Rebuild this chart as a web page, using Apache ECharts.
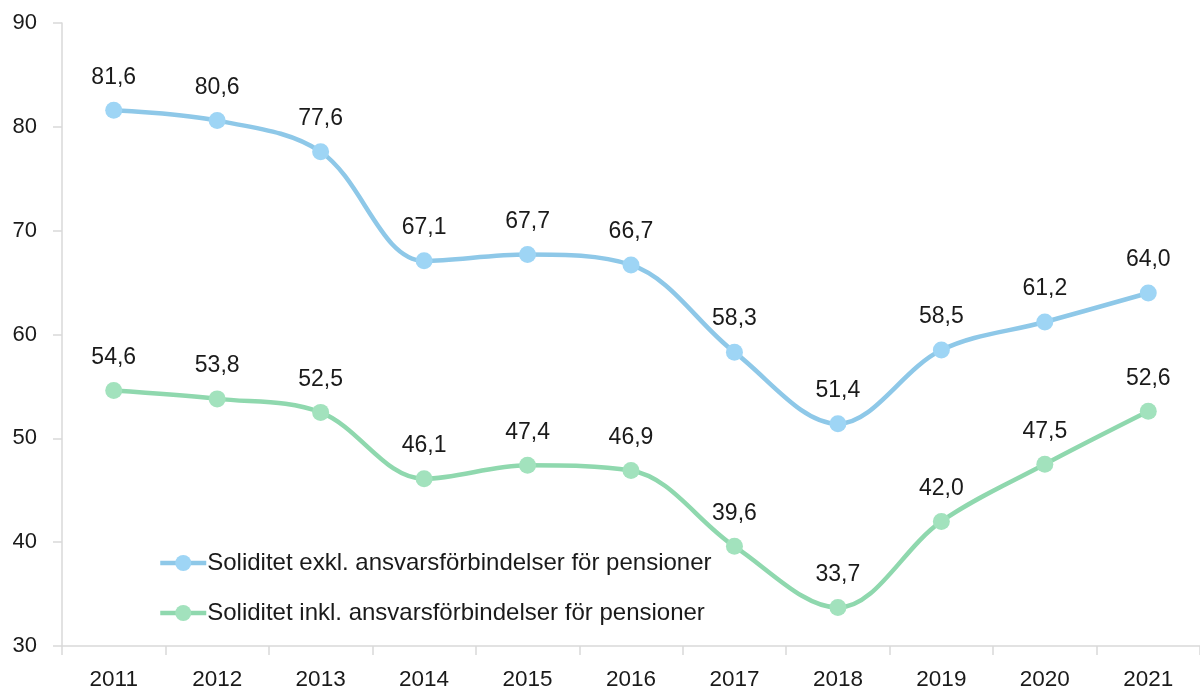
<!DOCTYPE html>
<html>
<head>
<meta charset="utf-8">
<script src="https://cdn.jsdelivr.net/npm/echarts@6/dist/echarts.min.js"></script>
<style>
  html, body { margin: 0; padding: 0; background: #ffffff; }
  #chart { width: 1200px; height: 691px; }
</style>
</head>
<body>
<div id="chart"></div>
<script>
// Years on the category axis
const years = ['2011', '2012', '2013', '2014', '2015', '2016', '2017', '2018', '2019', '2020', '2021'];

// Solidity, percent
const exklValues = [81.6, 80.6, 77.6, 67.1, 67.7, 66.7, 58.3, 51.4, 58.5, 61.2, 64.0];
const inklValues = [54.6, 53.8, 52.5, 46.1, 47.4, 46.9, 39.6, 33.7, 42.0, 47.5, 52.6];

const seriesNames = [
  'Soliditet exkl. ansvarsförbindelser för pensioner',
  'Soliditet inkl. ansvarsförbindelser för pensioner'
];

const FONT = '"Liberation Sans", Arial, sans-serif';
const TEXT = '#1a1a1a';
const fmt = v => v.toFixed(1).replace('.', ',');

const chart = echarts.init(document.getElementById('chart'), null, { renderer: 'canvas' });

function lineSeries(name, data, lineColor, dotColor) {
  return {
    name: name,
    type: 'line',
    data: data,
    smooth: 0.35,
    symbol: 'circle',
    symbolSize: 17,
    lineStyle: { color: lineColor, width: 4.5 },
    itemStyle: { color: dotColor, borderWidth: 0 },
    label: {
      show: true,
      position: 'top',
      distance: 13,
      formatter: p => fmt(p.value),
      color: TEXT,
      fontFamily: FONT,
      fontSize: 23
    },
    emphasis: { disabled: true },
    animation: false
  };
}

chart.setOption({
  backgroundColor: '#ffffff',
  animation: false,
  grid: { left: 62, top: 23, width: 1146, height: 624, containLabel: false },
  legend: {
    orient: 'vertical',
    left: 153,
    top: 546,
    itemGap: 26,
    itemWidth: 46,
    itemHeight: 20,
    lineStyle: { width: 4.5 },
    textStyle: { color: TEXT, fontFamily: FONT, fontSize: 24, padding: [0, 0, 0, -4] },
    data: seriesNames
  },
  xAxis: {
    type: 'category',
    data: years,
    boundaryGap: true,
    axisLine: { lineStyle: { color: '#d9d9d9', width: 1.5 } },
    axisTick: { show: true, length: 9, lineStyle: { color: '#d9d9d9', width: 1.5 } },
    axisLabel: { color: TEXT, fontFamily: FONT, fontSize: 22.5, margin: 22 },
    splitLine: { show: false }
  },
  yAxis: {
    type: 'value',
    min: 30,
    max: 90,
    interval: 10,
    axisLine: { show: true, lineStyle: { color: '#d9d9d9', width: 1.5 } },
    axisTick: { show: true, length: 9, lineStyle: { color: '#d9d9d9', width: 1.5 } },
    axisLabel: { color: TEXT, fontFamily: FONT, fontSize: 22, margin: 25 },
    splitLine: { show: false }
  },
  series: [
    lineSeries(seriesNames[0], exklValues, '#8ec8e8', '#9ed5f5'),
    lineSeries(seriesNames[1], inklValues, '#8fd8ae', '#a2e2bd')
  ]
});
</script>
</body>
</html>
